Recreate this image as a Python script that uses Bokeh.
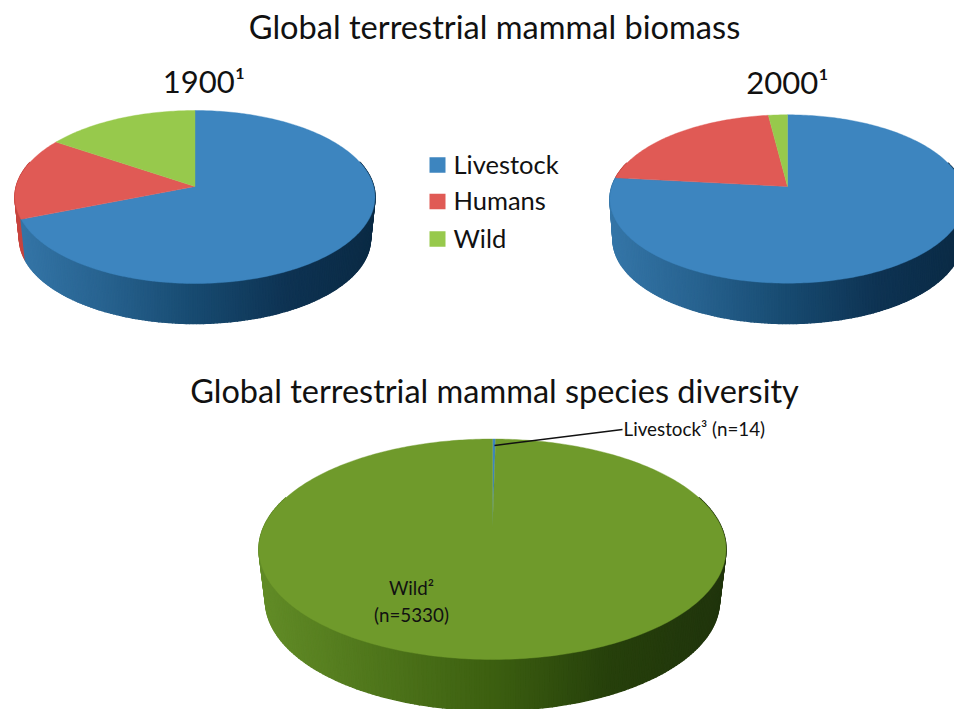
import math
import numpy as np
from bokeh.plotting import figure
from bokeh.models import Range1d, ColumnDataSource
from bokeh.core.properties import value
from bokeh.embed import file_html
from bokeh.resources import INLINE

# ---- data -----------------------------------------------------------------
biomass_categories = ["Livestock", "Humans", "Wild"]
biomass_1900 = [69.0, 15.4, 15.6]
biomass_2000 = [76.7, 21.3, 2.0]
diversity_categories = ["Livestock", "Wild"]
diversity_species = [14, 5330]

title_top = "Global terrestrial mammal biomass"
title_bottom = "Global terrestrial mammal species diversity"
label_1900 = "1900\u00b9"
label_2000 = "2000\u00b9"
label_livestock = "Livestock\u00b3 (n=14)"
label_wild = ["Wild\u00b2", "(n=5330)"]

# ---- styles ----------------------------------------------------------------
FONT = "Lato"
TOP_COLORS = {"Livestock": "#3d85bf", "Humans": "#e05a55", "Wild": "#97c94c"}
T_STOPS = [0.0, 0.25, 0.5, 0.75, 1.0]
SIDE_STOPS = {
    "Livestock": ["#3576a8", "#27628f", "#174a70", "#0e3353", "#0a2a44"],
    "Humans": ["#c8453f", "#a63a36", "#7c2a27", "#551c1a", "#3d1312"],
    "Wild": ["#80a83d", "#6c9030", "#4c6a20", "#344a15", "#22320d"],
}
DIVERSITY_TOP = {"Livestock": "#3d85bf", "Wild": "#6f9a2b"}
DIVERSITY_SIDE = {
    "Livestock": ["#3576a8", "#27628f", "#174a70", "#0e3353", "#0a2a44"],
    "Wild": ["#628c27", "#4f761b", "#3c5f10", "#26400b", "#20340c"],
}

p = figure(width=954, height=709, output_backend="svg", toolbar_location=None,
           x_range=Range1d(0, 954), y_range=Range1d(709, 0),
           min_border=0, min_border_left=0, min_border_right=0,
           min_border_top=0, min_border_bottom=0, background_fill_color="white",
           border_fill_color="white")
p.axis.visible = False
p.grid.visible = False
p.outline_line_color = None


def hex_rgb(h):
    return [int(h[i:i + 2], 16) for i in (1, 3, 5)]


def ramp(stops, t):
    t = min(max(t, 0.0), 1.0)
    rgb = np.array([hex_rgb(s) for s in stops], dtype=float)
    c = [np.interp(t, T_STOPS, rgb[:, i]) for i in range(3)]
    return "#%02x%02x%02x" % tuple(int(round(x)) for x in c)


def pie3d(categories, values, top_colors, side_colors, cx, top_y, apex_y, face_bottom,
          half_w, base_bottom, base_half_h, base_half_w):
    near = face_bottom - apex_y
    far = apex_y - top_y
    k = (near - far) / (near + far)
    a = half_w * math.sqrt(1 - k * k)
    b = near * (1 - k)
    a2 = base_half_w * math.sqrt(1 - k * k)
    b2 = base_half_h * (1 - k * k)
    cy2 = base_bottom - b2 / (1 - k)

    def rim(th, cy, aa, bb):
        u, v = np.sin(th), -np.cos(th)
        d = 1 - k * v
        return cx + aa * u / d, cy + bb * v / d

    total = float(sum(values))
    edges = np.concatenate([[0.0], np.cumsum(values) / total]) * 2 * math.pi

    strips = []
    faces = []
    for i, cat in enumerate(categories):
        span = edges[i + 1] - edges[i]
        n = max(1, int(math.ceil(span / math.radians(1.0))))
        th = np.linspace(edges[i], edges[i + 1], n + 1)
        tx, ty = rim(th, apex_y, a, b)
        faces.append(([cx] + list(tx), [apex_y] + list(ty), top_colors[cat]))
        bx, by = rim(th, cy2, a2, b2)
        for j in range(n):
            mid = 0.5 * (th[j] + th[j + 1])
            vm = -math.cos(mid)
            if vm < -0.3:
                continue
            col = ramp(side_colors[cat], (0.5 * (tx[j] + tx[j + 1]) - (cx - half_w)) / (2 * half_w))
            strips.append((vm, [tx[j], tx[j + 1], bx[j + 1], bx[j]],
                           [ty[j], ty[j + 1], by[j + 1], by[j]], col))
    strips.sort(key=lambda s: s[0])
    src = ColumnDataSource(dict(xs=[s[1] for s in strips], ys=[s[2] for s in strips],
                                c=[s[3] for s in strips]))
    p.patches("xs", "ys", source=src, fill_color="c", line_color="c", line_width=1.5,
              line_join="round")
    src2 = ColumnDataSource(dict(xs=[f[0] for f in faces], ys=[f[1] for f in faces],
                                 c=[f[2] for f in faces]))
    p.patches("xs", "ys", source=src2, fill_color="c", line_color="c", line_width=0.4)


pie3d(biomass_categories, biomass_1900, TOP_COLORS, SIDE_STOPS,
      194.5, 110, 186, 283, 180, 323, 85, 175.5)
pie3d(biomass_categories, biomass_2000, TOP_COLORS, SIDE_STOPS,
      787, 114.3, 186, 282.7, 177.5, 323, 84, 174.5)
pie3d(diversity_categories, diversity_species, DIVERSITY_TOP, DIVERSITY_SIDE,
      492, 438.5, 527, 659, 233.5, 710, 110, 227)


def label(x, y, text, size, align="center"):
    p.text([x], [y], text=[text], text_font=value(FONT), text_font_size=size,
           text_color="#111111", text_align=align, text_baseline="middle")


label(494, 25.5, title_top, "32.6px")
label(203.5, 80.5, label_1900, "31px")
label(787, 81.5, label_2000, "31px")
label(494, 389.5, title_bottom, "32.5px")

# legend
for cat, yc in zip(biomass_categories, [164.5, 201, 238.5]):
    p.rect([437], [yc], width=16, height=15.5, fill_color=TOP_COLORS[cat], line_color=None)
    label(453, yc - 1.5, cat, "25.5px", "left")

# annotations
p.line([494, 622], [445, 429], line_color="#111111", line_width=1.5)
label(623, 428, label_livestock, "18.8px", "left")
label(411, 587, label_wild[0], "18.8px")
label(411, 614, label_wild[1], "18.8px")

open("out.html", "w").write(file_html(p, INLINE))
